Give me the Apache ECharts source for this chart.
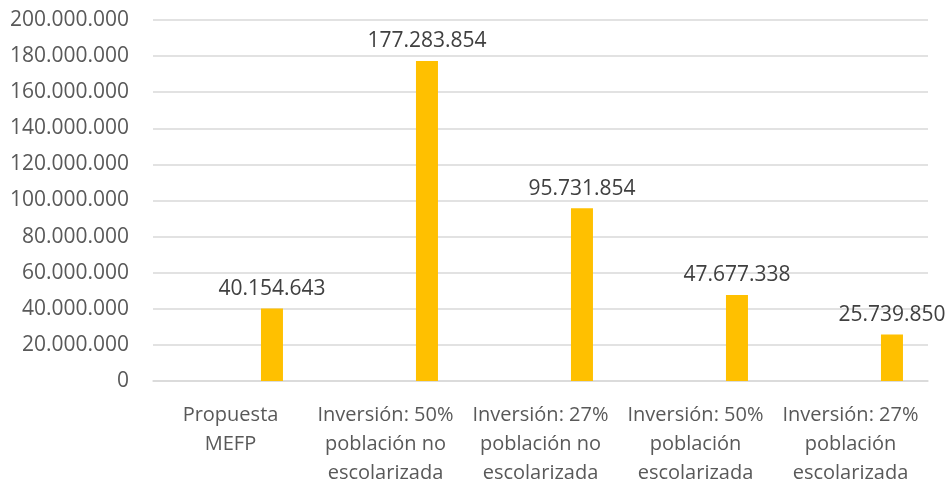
<!DOCTYPE html>
<html>
<head>
<meta charset="utf-8">
<script src="https://cdn.jsdelivr.net/npm/echarts@6/dist/echarts.min.js"></script>
<style>
  html, body { margin: 0; padding: 0; background: #fff; }
  #chart { width: 948px; height: 485px; }
</style>
</head>
<body>
<div id="chart"></div>
<script>
// Categories (line breaks as shown under the axis)
const categories = [
  'Propuesta\nMEFP',
  'Inversión: 50%\npoblación no\nescolarizada',
  'Inversión: 27%\npoblación no\nescolarizada',
  'Inversión: 50%\npoblación\nescolarizada',
  'Inversión: 27%\npoblación\nescolarizada'
];
// Cost per scenario (euros)
const costs = [40154643, 177283854, 95731854, 47677338, 25739850];
// Empty companion series that keeps the bars in the right half of each slot
const placeholder = [null, null, null, null, null];
// Value axis range
const axisMin = 0;
const axisMax = 200000000;
const axisStep = 20000000;

function fmt(v) {
  return String(Math.round(v)).replace(/\B(?=(\d{3})+(?!\d))/g, '.');
}

const chart = echarts.init(document.getElementById('chart'), null, { renderer: 'canvas' });
const font = '"Open Sans", "Liberation Sans", sans-serif';

chart.setOption({
  animation: false,
  textStyle: { fontFamily: font },
  grid: { left: 153, right: 20, top: 20, bottom: 104, containLabel: false, outerBoundsMode: 'none' },
  xAxis: {
    type: 'category',
    data: categories,
    axisLine: { lineStyle: { color: '#D9D9D9', width: 1.5 } },
    axisTick: { show: false },
    axisLabel: {
      color: '#595959',
      fontSize: 20,
      lineHeight: 29,
      margin: 20,
      interval: 0,
      fontFamily: font
    }
  },
  yAxis: {
    type: 'value',
    min: axisMin,
    max: axisMax,
    interval: axisStep,
    axisLine: { show: false },
    axisTick: { show: false },
    splitLine: { lineStyle: { color: '#D9D9D9', width: 1.5 } },
    axisLabel: {
      color: '#595959',
      fontSize: 21,
      margin: 24,
      fontFamily: font,
      formatter: fmt
    }
  },
  series: [
    {
      type: 'bar',
      data: placeholder,
      barWidth: 22,
      barGap: '277%',
      itemStyle: { color: '#FFC000' }
    },
    {
      type: 'bar',
      data: costs,
      barWidth: 22,
      barGap: '277%',
      itemStyle: { color: '#FFC000' },
      label: {
        show: true,
        position: 'top',
        distance: 9,
        color: '#404040',
        fontSize: 21,
        fontFamily: font,
        formatter: p => fmt(p.value)
      }
    }
  ]
});
</script>
</body>
</html>
